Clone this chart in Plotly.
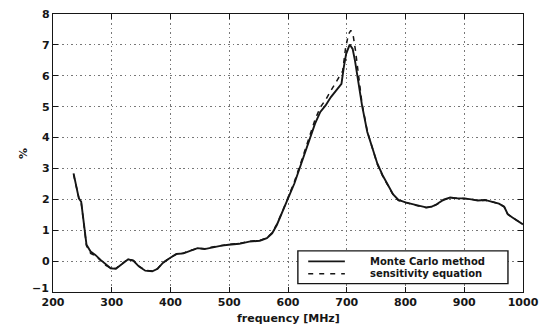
import plotly.graph_objects as go

freq_mc = [235, 244, 248, 257, 264, 272, 281, 290, 298, 307, 316, 328, 337, 346, 357, 369, 378, 387,
           399, 410, 422, 434, 446, 458, 469, 487, 499, 517, 534, 552, 564, 573, 581, 590, 599, 611,
           623, 635, 646, 655, 664, 673, 682, 688, 691, 695, 699, 705, 710, 714, 720, 726, 735, 744,
           752, 761, 770, 779, 788, 800, 817, 835, 844, 853, 865, 876, 888, 900, 912, 923, 935, 947,
           959, 968, 974, 982, 991, 1000]
val_mc = [2.84, 2.03, 1.92, 0.53, 0.31, 0.20, 0.04, -0.12, -0.23, -0.25, -0.12, 0.06, 0.01, -0.17,
          -0.31, -0.33, -0.25, -0.06, 0.10, 0.23, 0.25, 0.34, 0.42, 0.39, 0.44, 0.50, 0.53, 0.56,
          0.63, 0.66, 0.74, 0.90, 1.17, 1.55, 1.98, 2.52, 3.16, 3.81, 4.45, 4.83, 5.04, 5.31, 5.53,
          5.69, 5.74, 6.28, 6.71, 7.01, 6.87, 6.49, 5.80, 5.04, 4.18, 3.65, 3.16, 2.78, 2.46, 2.16,
          1.98, 1.90, 1.82, 1.74, 1.76, 1.84, 1.99, 2.06, 2.03, 2.03, 2.00, 1.96, 1.98, 1.92, 1.86,
          1.76, 1.52, 1.41, 1.30, 1.19]

freq_se = [235, 244, 248, 257, 264, 272, 281, 290, 298, 307, 316, 328, 337, 346, 357, 369, 378, 387,
           399, 410, 422, 434, 446, 458, 469, 487, 499, 517, 534, 552, 564, 573, 581, 590, 599, 611,
           623, 635, 646, 655, 664, 673, 682, 688, 693, 698, 703, 707, 711, 715, 720, 726, 735, 744,
           752, 761, 770, 779, 788, 800, 817, 835, 844, 853, 865, 876, 888, 900, 912, 923, 935, 947,
           959, 968, 974, 982, 991, 1000]
val_se = [2.80, 2.05, 1.90, 0.50, 0.25, 0.18, 0.02, -0.14, -0.22, -0.24, -0.10, 0.07, 0.02, -0.16,
          -0.30, -0.32, -0.24, -0.05, 0.11, 0.22, 0.26, 0.35, 0.41, 0.40, 0.45, 0.51, 0.54, 0.57,
          0.64, 0.67, 0.75, 0.92, 1.20, 1.58, 2.02, 2.58, 3.25, 3.92, 4.58, 4.98, 5.22, 5.52, 5.80,
          6.02, 6.15, 6.90, 7.35, 7.47, 7.30, 6.80, 5.95, 5.10, 4.20, 3.63, 3.14, 2.76, 2.44, 2.14,
          1.96, 1.89, 1.81, 1.73, 1.75, 1.83, 1.98, 2.05, 2.04, 2.04, 2.01, 1.96, 1.97, 1.92, 1.86,
          1.76, 1.52, 1.41, 1.30, 1.19]

series_names = ["Monte Carlo method", "sensitivity equation"]
x_ticks = [200, 300, 400, 500, 600, 700, 800, 900, 1000]
y_ticks = [-1, 0, 1, 2, 3, 4, 5, 6, 7, 8]
y_tick_text = ["\u22121", "0", "1", "2", "3", "4", "5", "6", "7", "8"]
x_title = "frequency [MHz]"
y_title = "%"

ink = "#161616"
family = "DejaVu Sans, Liberation Sans, Arial, sans-serif"
font = dict(family=family, size=11, color=ink, weight="bold")
dash_style = "5px,5px"

fig = go.Figure()
fig.add_trace(go.Scatter(x=freq_mc, y=val_mc, mode="lines", name=series_names[0],
                         showlegend=False, line=dict(color=ink, width=1.9)))
fig.add_trace(go.Scatter(x=freq_se, y=val_se, mode="lines", name=series_names[1],
                         showlegend=False, line=dict(color=ink, width=1.5, dash=dash_style)))

axis_common = dict(showline=True, linecolor=ink, linewidth=1.3, mirror="ticks",
                   ticks="inside", ticklen=5, tickcolor=ink, tickwidth=1.2,
                   showgrid=True, gridcolor="#777777", griddash="1.5px,3px", gridwidth=1.2,
                   zeroline=False, tickfont=font, automargin=False)

# manual legend box (MATLAB style)
fig.add_shape(type="rect", xref="paper", yref="paper", x0=0.521, x1=0.968, y0=0.030, y1=0.148,
              line=dict(color=ink, width=1.4), fillcolor="white", layer="above")
legend_rows = [(0.110, "solid", 1.9), (0.066, "5px,6px", 1.5)]
for (yy, dash, w), name in zip(legend_rows, series_names):
    fig.add_shape(type="line", xref="paper", yref="paper", x0=0.543, x1=0.621, y0=yy, y1=yy,
                  line=dict(color=ink, width=w, dash=dash), layer="above")
    fig.add_annotation(xref="paper", yref="paper", x=0.672, y=yy, text=name, showarrow=False,
                       xanchor="left", yanchor="middle", borderpad=0,
                       font=dict(family=family, size=10, color=ink, weight="bold"))

# lowest y tick label, raised slightly as in the reference
y_labels = [t if v != y_ticks[0] else "" for v, t in zip(y_ticks, y_tick_text)]
fig.add_annotation(xref="paper", yref="y", x=-0.006, y=y_ticks[0], text=y_tick_text[0],
                   showarrow=False, xanchor="right", yanchor="middle", yshift=4,
                   borderpad=0, font=font)

# axis titles
fig.add_annotation(xref="paper", yref="paper", x=0.5, y=-0.097, text=x_title, showarrow=False,
                   xanchor="center", yanchor="middle", borderpad=0, font=font)
fig.add_annotation(xref="paper", yref="paper", x=-0.064, y=0.5, text=y_title, showarrow=False,
                   xanchor="center", yanchor="middle", textangle=-90, borderpad=0, font=font)

fig.update_layout(
    width=543, height=324,
    margin=dict(l=53, r=20, t=14, b=32),
    paper_bgcolor="white", plot_bgcolor="white",
    font=font,
    xaxis=dict(range=[200, 1000], tickvals=x_ticks, ticktext=[str(v) for v in x_ticks],
               **axis_common),
    yaxis=dict(range=[-1, 8], tickvals=y_ticks, ticktext=y_labels, **axis_common),
    showlegend=False,
)

fig.write_html("out.html")
